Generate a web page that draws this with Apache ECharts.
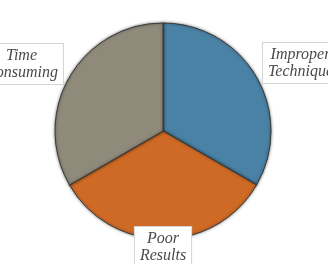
<!DOCTYPE html>
<html><head><meta charset="utf-8">
<script src="https://cdn.jsdelivr.net/npm/echarts@6/dist/echarts.min.js"></script>
<style>html,body{margin:0;padding:0;background:#fff}#c{width:328px;height:264px}</style>
</head><body><div id="c"></div>
<script>
var categories = ['Improper\nTechnique', 'Poor\nResults', 'Time\nConsuming'];
var values = [33.3, 33.3, 33.3];
var colors = ['#4a82a5', '#cf6a26', '#8f8a7a'];
var labelShift = [[44, -14], [0, 8], [-48, -13]];

var chart = echarts.init(document.getElementById('c'));
chart.setOption({
  backgroundColor: '#ffffff',
  animation: false,
  series: [{
    type: 'pie',
    center: [163, 131],
    radius: 108,
    startAngle: 90,
    clockwise: true,
    avoidLabelOverlap: false,
    data: categories.map(function (n, i) {
      return { name: n, value: values[i], itemStyle: { color: colors[i] } };
    }),
    itemStyle: {
      borderColor: '#3a3a36',
      borderWidth: 1,
      shadowBlur: 3,
      shadowColor: 'rgba(0,0,0,0.5)'
    },
    label: {
      show: true,
      position: 'outside',
      distanceToLabelLine: 0,
      formatter: '{b}',
      fontFamily: 'Liberation Serif',
      fontStyle: 'italic',
      fontSize: 16,
      lineHeight: 17,
      color: '#4a4a4a',
      backgroundColor: '#ffffff',
      borderColor: '#d4d4d4',
      borderWidth: 1,
      padding: [3, 5, 3, 5]
    },
    labelLine: { show: false, length: 0, length2: 0 },
    labelLayout: function (p) {
      var s = labelShift[p.dataIndex];
      return { dx: s[0], dy: s[1], align: 'center', verticalAlign: 'middle' };
    }
  }]
});
</script></body></html>
